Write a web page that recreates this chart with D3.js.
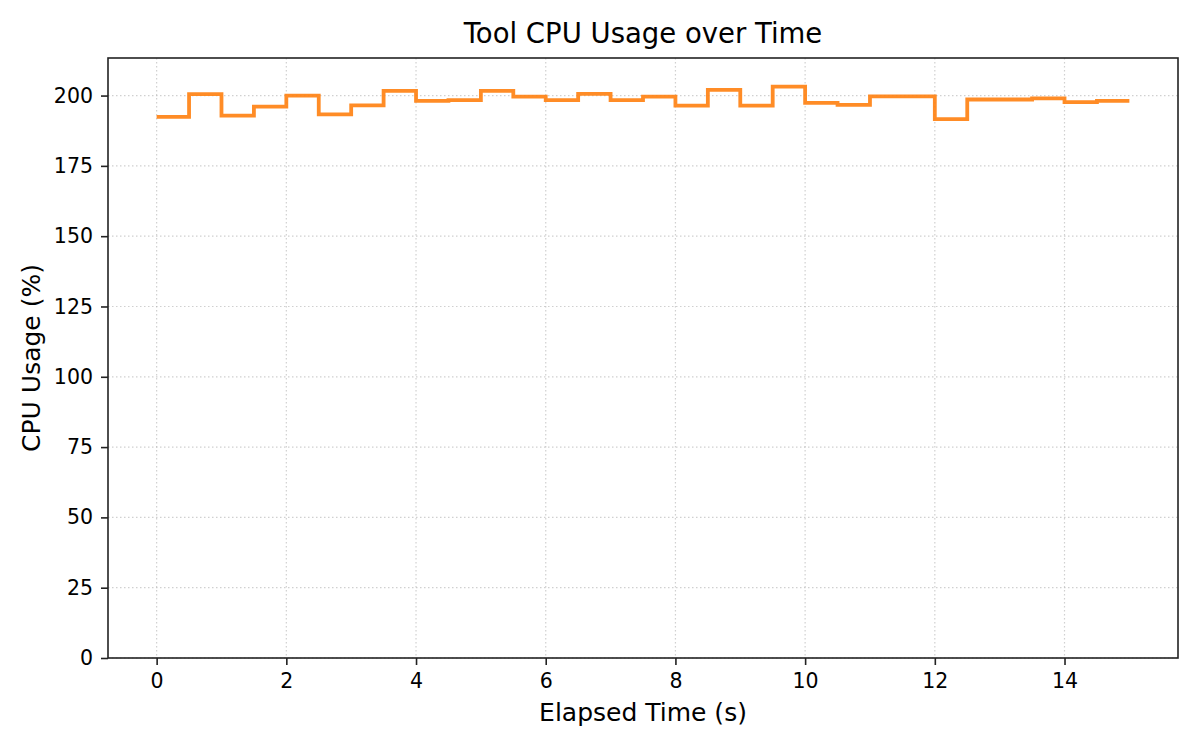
<!DOCTYPE html>
<html>
<head>
<meta charset="utf-8">
<script src="https://cdn.jsdelivr.net/npm/d3@7"></script>
<style>
  body { margin: 0; background: #fff; }
  svg { font-family: "DejaVu Sans", sans-serif; }
</style>
</head>
<body>
<svg id="chart" width="1200" height="750"></svg>
<script>
// sample times (s), one every 0.5 s, drawn as post-steps
const times = [0, 0.5, 1, 1.5, 2, 2.5, 3, 3.5, 4, 4.5, 5, 5.5, 6, 6.5, 7, 7.5,
  8, 8.5, 9, 9.5, 10, 10.5, 11, 11.5, 12, 12.5, 13, 13.5, 14, 14.5, 15];
const cpuUsage = [192.4, 200.5, 192.9, 196.1, 200.0, 193.3, 196.5, 201.7, 198.1, 198.4,
  201.7, 199.6, 198.4, 200.6, 198.4, 199.6, 196.4, 202.0, 196.4, 203.2,
  197.4, 196.7, 199.7, 199.7, 191.6, 198.6, 198.6, 199.0, 197.7, 198.1, 198.1];
const xTicks = [0, 2, 4, 6, 8, 10, 12, 14];
const yTicks = [0, 25, 50, 75, 100, 125, 150, 175, 200];

const svg = d3.select("#chart");
const m = { left: 108, right: 22, top: 58, bottom: 92 };
const w = 1200, h = 750;

const data = times.map((t, i) => ({ t, v: cpuUsage[i] }));

const x = d3.scaleLinear()
  .domain([-0.75, 15.75])
  .range([m.left, w - m.right]);

const y = d3.scaleLinear()
  .domain([0, d3.max(cpuUsage) * 1.05])
  .range([h - m.bottom, m.top]);

// grid
const grid = svg.append("g");
xTicks.forEach(t => {
  grid.append("line")
    .attr("x1", x(t)).attr("x2", x(t))
    .attr("y1", m.top).attr("y2", h - m.bottom)
    .attr("stroke", "#b0b0b0").attr("stroke-opacity", 0.6)
    .attr("stroke-width", 1.2).attr("stroke-dasharray", "1.5,2.5");
});
yTicks.forEach(t => {
  grid.append("line")
    .attr("x1", m.left).attr("x2", w - m.right)
    .attr("y1", y(t)).attr("y2", y(t))
    .attr("stroke", "#b0b0b0").attr("stroke-opacity", 0.6)
    .attr("stroke-width", 1.2).attr("stroke-dasharray", "1.5,2.5");
});

// step line
const line = d3.line()
  .x(d => x(d.t))
  .y(d => y(d.v))
  .curve(d3.curveStepAfter);

svg.append("path")
  .datum(data)
  .attr("fill", "none")
  .attr("stroke", "#ff7f0e")
  .attr("stroke-opacity", 0.9)
  .attr("stroke-width", 3.8)
  .attr("stroke-linejoin", "miter")
  .attr("d", line);

// axes
const xAxis = svg.append("g")
  .attr("transform", `translate(0,${h - m.bottom})`)
  .call(d3.axisBottom(x).tickValues(xTicks).tickSize(7).tickPadding(8).tickSizeOuter(0));
const yAxis = svg.append("g")
  .attr("transform", `translate(${m.left},0)`)
  .call(d3.axisLeft(y).tickValues(yTicks).tickSize(7).tickPadding(8).tickSizeOuter(0));

[xAxis, yAxis].forEach(a => {
  a.attr("font-family", "DejaVu Sans").attr("font-size", 20.5);
  a.select(".domain").remove();
  a.selectAll(".tick line").attr("stroke", "#222").attr("stroke-width", 1.6);
  a.selectAll(".tick text").attr("fill", "#000");
});

// frame
svg.append("rect")
  .attr("x", m.left).attr("y", m.top)
  .attr("width", w - m.left - m.right)
  .attr("height", h - m.top - m.bottom)
  .attr("fill", "none")
  .attr("stroke", "#222")
  .attr("stroke-width", 1.6);

// labels
svg.append("text")
  .attr("x", (m.left + w - m.right) / 2).attr("y", 43)
  .attr("text-anchor", "middle")
  .style("font-size", "27.5px")
  .text("Tool CPU Usage over Time");

svg.append("text")
  .attr("x", (m.left + w - m.right) / 2).attr("y", 721)
  .attr("text-anchor", "middle")
  .style("font-size", "25px")
  .text("Elapsed Time (s)");

svg.append("text")
  .attr("transform", `translate(40,${(m.top + h - m.bottom) / 2}) rotate(-90)`)
  .attr("text-anchor", "middle")
  .style("font-size", "25px")
  .text("CPU Usage (%)");
</script>
</body>
</html>
